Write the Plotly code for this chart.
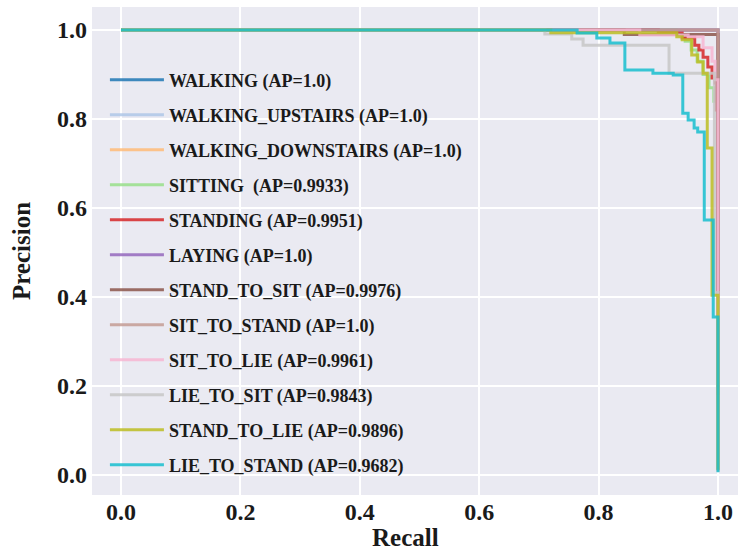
import plotly.graph_objects as go

# ---- data ----
labels = [
    "WALKING (AP=1.0)",
    "WALKING_UPSTAIRS (AP=1.0)",
    "WALKING_DOWNSTAIRS (AP=1.0)",
    "SITTING\u00a0 (AP=0.9933)",
    "STANDING (AP=0.9951)",
    "LAYING (AP=1.0)",
    "STAND_TO_SIT (AP=0.9976)",
    "SIT_TO_STAND (AP=1.0)",
    "SIT_TO_LIE (AP=0.9961)",
    "LIE_TO_SIT (AP=0.9843)",
    "STAND_TO_LIE (AP=0.9896)",
    "LIE_TO_STAND (AP=0.9682)",
]
colors = ["#1f77b4", "#aec7e8", "#ffbb78", "#98df8a", "#d62728", "#9467bd",
          "#8c564b", "#c49c94", "#f7b6d2", "#c7c7c7", "#bcbd22", "#17becf"]

walking_r = [0.0, 1.0, 1.0]
walking_p = [1.0, 1.0, 0.165]
upstairs_r = [0.0, 1.0, 1.0]
upstairs_p = [1.0, 1.0, 0.15]
downstairs_r = [0.0, 1.0, 1.0]
downstairs_p = [1.0, 1.0, 0.14]
sitting_r = [0.0, 0.93, 0.945, 0.955, 0.965, 0.975, 0.985, 0.993, 1.0]
sitting_p = [1.0, 0.99, 0.975, 0.955, 0.93, 0.90, 0.87, 0.84, 0.16]
standing_r = [0.0, 0.90, 0.94, 0.961, 0.968, 0.975, 0.983, 0.990, 0.995, 0.997, 1.0]
standing_p = [1.0, 0.995, 0.982, 0.966, 0.955, 0.939, 0.917, 0.892, 0.881, 0.82, 0.18]
laying_r = [0.0, 1.0, 1.0]
laying_p = [1.0, 1.0, 0.19]
stand_to_sit_r = [0.0, 0.843, 1.0]
stand_to_sit_p = [1.0, 0.99, 0.012]
sit_to_stand_r = [0.0, 1.0, 1.0]
sit_to_stand_p = [1.0, 1.0, 0.008]
sit_to_lie_r = [0.0, 0.869, 0.95, 0.975, 0.99, 0.995, 1.0]
sit_to_lie_p = [1.0, 0.989, 0.985, 0.96, 0.93, 0.888, 0.012]
lie_to_sit_r = [0.0, 0.710, 0.755, 0.774, 0.918, 0.994, 1.0]
lie_to_sit_p = [1.0, 0.991, 0.980, 0.966, 0.903, 0.41, 0.012]
stand_to_lie_r = [0.0, 0.72, 0.931, 0.940, 0.956, 0.966, 0.975, 0.982, 0.990, 1.0]
stand_to_lie_p = [1.0, 0.994, 0.985, 0.978, 0.944, 0.928, 0.903, 0.735, 0.404, 0.012]
lie_to_stand_r = [0.0, 0.764, 0.797, 0.819, 0.844, 0.891, 0.925, 0.941, 0.950, 0.960, 0.966, 0.977, 0.992, 1.0]
lie_to_stand_p = [1.0, 0.993, 0.982, 0.971, 0.910, 0.903, 0.899, 0.813, 0.798, 0.780, 0.771, 0.573, 0.355, 0.006]

recalls = [walking_r, upstairs_r, downstairs_r, sitting_r, standing_r, laying_r,
           stand_to_sit_r, sit_to_stand_r, sit_to_lie_r, lie_to_sit_r, stand_to_lie_r, lie_to_stand_r]
precisions = [walking_p, upstairs_p, downstairs_p, sitting_p, standing_p, laying_p,
              stand_to_sit_p, sit_to_stand_p, sit_to_lie_p, lie_to_sit_p, stand_to_lie_p, lie_to_stand_p]

tick_vals = [0.0, 0.2, 0.4, 0.6, 0.8, 1.0]
tick_text = ["0.0", "0.2", "0.4", "0.6", "0.8", "1.0"]

FONT = "Liberation Serif, Times New Roman, serif"

def rgba(hx, a=0.85):
    hx = hx.lstrip("#")
    r, g, b = int(hx[0:2], 16), int(hx[2:4], 16), int(hx[4:6], 16)
    return f"rgba({r},{g},{b},{a})"

fig = go.Figure()
for i, (lab, col, r, p) in enumerate(zip(labels, colors, recalls, precisions)):
    fig.add_trace(go.Scatter(
        x=r, y=p, mode="lines", name=lab, legendgroup=f"g{i}",
        line=dict(color=rgba(col), width=3, shape="hv"),
    ))

fig.update_layout(
    width=738, height=552,
    margin=dict(l=92, r=0, t=7, b=57),
    paper_bgcolor="white",
    plot_bgcolor="#eaeaf2",
    font=dict(family=FONT, color="#1a1a1a", weight="bold"),
    showlegend=True,
    legend=dict(
        x=0.02, y=0.888, xanchor="left", yanchor="top",
        bgcolor="rgba(0,0,0,0)", borderwidth=0,
        font=dict(family=FONT, size=18, color="#1a1a1a", weight="bold"),
        tracegroupgap=8.6, itemwidth=54,
    ),
    xaxis=dict(
        range=[-0.0486, 1.0335], tickvals=tick_vals, ticktext=tick_text,
        showgrid=True, gridcolor="white", gridwidth=1.5, zeroline=False,
        showline=False, ticks="", tickfont=dict(family=FONT, size=24, weight="bold"),
    ),
    yaxis=dict(
        range=[-0.045, 1.0517], tickvals=tick_vals, ticktext=tick_text,
        showgrid=True, gridcolor="white", gridwidth=1.5, zeroline=False,
        showline=False, ticks="", ticklabelstandoff=4,
        tickfont=dict(family=FONT, size=24, weight="bold"),
        title=dict(text="Precision", font=dict(family=FONT, size=25, weight="bold"), standoff=19),
    ),
    annotations=[dict(
        text="Recall", xref="paper", yref="paper", x=(405 - 92) / 646, y=(495 - 537) / 488,
        xanchor="center", yanchor="middle", showarrow=False,
        font=dict(family=FONT, size=25, color="#1a1a1a", weight="bold"),
    )],
)

fig.write_html("out.html")
